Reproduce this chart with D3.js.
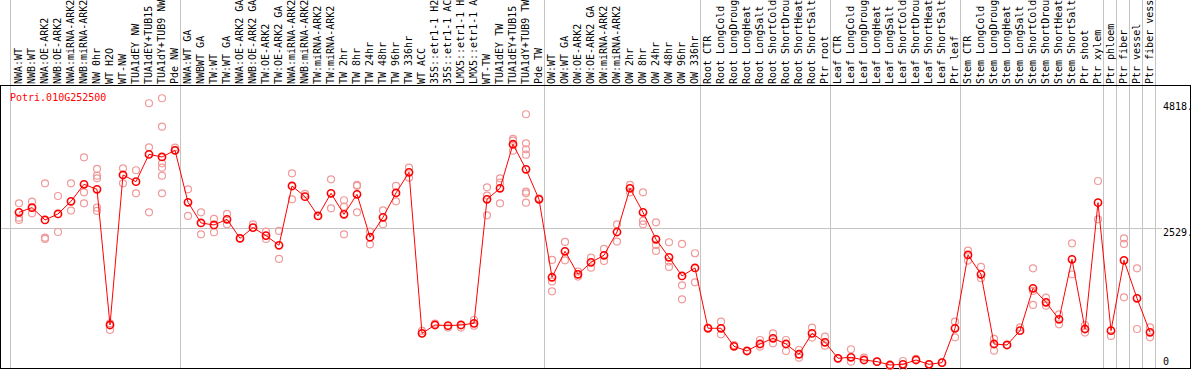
<!DOCTYPE html>
<html>
<head>
<meta charset="utf-8">
<script src="https://cdn.jsdelivr.net/npm/d3@7"></script>
<style>
body { margin: 0; background: #fff; }
svg { display: block; }
text { font-family: "DejaVu Sans Mono", monospace; font-size: 10px; }
</style>
</head>
<body>
<div id="chart"></div>
<script>
const geneId = "Potri.010G252500"

// sample names as far as they show in the header strip
const labels = [
	"NWA:WT", "NWB:WT", "NWA:OE-ARK2", "NWB:OE-ARK2", "NWA:miRNA-ARK2", "NWB:miRNA-ARK2",
	"NW 0hr", "WT H2O", "WT-NW", "TUA1dEY NW", "TUA1dEY+TUB15", "TUA1dY+TUB9 NW", "Pde NW",
	"NWA:WT GA", "NWBWT GA", "TW:WT", "TW:WT GA", "NWA:OE-ARK2 GA", "NWB:OE-ARK2 GA",
	"TW:OE-ARK2", "TW:OE-ARK2 GA", "NWA:miRNA-ARK2", "NWB:miRNA-ARK2", "TW:miRNA-ARK2",
	"TW:miRNA-ARK2", "TW 2hr", "TW 8hr", "TW 24hr", "TW 48hr", "TW 96hr", "TW 336hr", "WT ACC",
	"35S::etr1-1 H2", "35S::etr1-1 AC", "LMX5::etr1-1 H", "LMX5::etr1-1 A", "WT-TW",
	"TUA1dEY TW", "TUA1dEY+TUB15", "TUA1dY+TUB9 TW", "Pde TW",
	"OW:WT", "OW:WT GA", "OW:OE-ARK2", "OW:OE-ARK2 GA", "OW:miRNA-ARK2", "OW:miRNA-ARK2",
	"OW 2hr", "OW 8hr", "OW 24hr", "OW 48hr", "OW 96hr", "OW 336hr",
	"Root CTR", "Root LongCold", "Root LongDroug", "Root LongHeat", "Root LongSalt",
	"Root ShortCold", "Root ShortDrou", "Root ShortHeat", "Root ShortSalt", "Ptr root",
	"Leaf CTR", "Leaf LongCold", "Leaf LongDroug", "Leaf LongHeat", "Leaf LongSalt",
	"Leaf ShortCold", "Leaf ShortDrou", "Leaf ShortHeat", "Leaf ShortSalt", "Ptr leaf",
	"Stem CTR", "Stem LongCold", "Stem LongDroug", "Stem LongHeat", "Stem LongSalt",
	"Stem ShortCold", "Stem ShortDrou", "Stem ShortHeat", "Stem ShortSalt", "Ptr shoot",
	"Ptr xylem", "Ptr phloem", "Ptr fiber", "Ptr vessel", "Ptr fiber vess"
]

// mean expression per sample
const means = [
	2820, 2905, 2681, 2790, 3020, 3330, 3239, 770, 3500, 3378, 3875, 3827, 3948,
	3002, 2626, 2590, 2693, 2347, 2541, 2396, 2220, 3299, 3105, 2754, 3166, 2784,
	3148, 2366, 2729, 3172, 3548, 618, 770, 758, 770, 800, 3057, 3257, 4058, 3603, 3057,
	1638, 2111, 1692, 1910, 2038, 2462, 3257, 2820, 2329, 2001, 1662, 1808,
	710, 710, 382, 297, 424, 528, 424, 237, 618, 455,
	164, 182, 133, 103, 42, 54, 133, 54, 85, 710,
	2044, 1692, 424, 406, 667, 1437, 1183, 873, 1965, 697,
	2996, 667, 1947, 1255, 637
]

// individual replicates per sample
const reps = [
	[2984, 2723, 2681], [3014, 2802, 2905], [3348, 2359, 2335], [3117, 2462], [3348, 2851],
	[3821, 3184, 2984], [3609, 3487, 3439, 2905, 2845], [800, 679], [3621, 3348], [3585, 3166],
	[4804, 4003, 2820], [4895, 4379, 3712, 3633, 3487, 3166], [3997, 3948],
	[3239, 2754], [2820, 2420], [2699, 2457], [2790, 2602], [2347], [2602], [2469, 2335],
	[2481, 1971], [3530, 3057], [3154], [2754], [3421, 2893], [3039, 2924, 2420],
	[3318, 3300, 2820], [2469, 2238], [2857, 2602], [3300, 3020], [3633, 3451], [661], [794],
	[722], [722], [861, 758], [3275, 3124, 2766], [3439, 3360, 2984], [4155, 4124, 3942],
	[4604, 4076, 3966, 3869, 3196, 3166, 2996], [3075],
	[1953, 1559, 1383], [2281, 1947], [1741, 1650], [1995, 1813], [2153, 1935], [2602, 2287],
	[3318, 3184], [3184, 2663, 2602], [2638, 2226, 2117], [2275, 1923, 1826],
	[2244, 1492, 1237], [2075, 1547],
	[722], [831, 600], [406], [297], [497, 376], [618, 437], [497, 297], [315, 176],
	[722, 540], [558, 394],
	[164], [328, 103], [176], [103], [24], [115, 0], [152], [54], [85], [831, 546],
	[2123, 1941], [1826, 1620], [516, 303], [406], [728], [1801, 1389, 1134], [1268, 1122],
	[964, 782], [2256, 1692], [770, 631],
	[3390, 2693], [570], [2347, 2244, 1274], [1801, 697], [728, 546]
]

// last sample index of each block (a grey rule follows it)
const groupEnds = [12, 40, 52, 62, 72, 83, 84, 85, 86, 87]

const tickValues = [0, 2529, 4818]
const tickLabels = ["0", "2529.", "4818."]

const WIDTH = 1194
const HEIGHT = 370
const PLOT = { TOP: 85, BOTTOM: 368, LEFT: 0, RIGHT: 1190 }

const svg = d3.select("#chart")
	.append("svg")
		.attr("width", WIDTH)
		.attr("height", HEIGHT)

const x = d3.scaleLinear()
	.domain([0, labels.length - 1])
	.range([19, 19 + 13 * (labels.length - 1)])

const y = d3.scaleLinear()
	.domain([0, 4818])
	.range([367.3, 102.5])

const GRID = "#c4c4c4"

// middle grid line
svg.append("line")
	.attr("x1", 0).attr("x2", 1162)
	.attr("y1", Math.round(y(tickValues[1])) + 0.5)
	.attr("y2", Math.round(y(tickValues[1])) + 0.5)
	.attr("stroke", GRID)

// vertical rules: left one plus one after each block
const rules = [10.5].concat(groupEnds.map(i => Math.round(x(i)) + 5.5))
svg.selectAll(".rule")
	.data(rules)
	.enter().append("line")
		.attr("class", "rule")
		.attr("x1", d => d).attr("x2", d => d)
		.attr("y1", 0).attr("y2", PLOT.BOTTOM)
		.attr("stroke", GRID)

// frame
svg.append("rect")
	.attr("x", PLOT.LEFT + 0.5)
	.attr("y", PLOT.TOP + 0.5)
	.attr("width", PLOT.RIGHT - PLOT.LEFT)
	.attr("height", PLOT.BOTTOM - PLOT.TOP)
	.attr("fill", "none")
	.attr("stroke", "#000")

// sample labels, rotated
svg.selectAll(".label")
	.data(labels)
	.enter().append("text")
		.attr("class", "label")
		.attr("transform", (d, i) => `translate(${x(i) + 3}, 84) rotate(-90)`)
		.attr("fill", "#000")
		.text(d => d)

// replicates
const repPoints = []
reps.forEach((r, i) => r.forEach(v => repPoints.push({ i: i, v: v })))

svg.selectAll(".rep")
	.data(repPoints)
	.enter().append("circle")
		.attr("class", "rep")
		.attr("cx", d => x(d.i))
		.attr("cy", d => y(d.v))
		.attr("r", 3.5)
		.attr("fill", "none")
		.attr("stroke", "#f09a9a")
		.attr("stroke-width", 1.2)

// mean line
const line = d3.line()
	.x((d, i) => x(i))
	.y(d => y(d))

svg.append("path")
	.datum(means)
	.attr("d", line)
	.attr("fill", "none")
	.attr("stroke", "#ff0000")
	.attr("stroke-width", 1)

svg.selectAll(".mean")
	.data(means)
	.enter().append("circle")
		.attr("class", "mean")
		.attr("cx", (d, i) => x(i))
		.attr("cy", d => y(d))
		.attr("r", 3.6)
		.attr("fill", "none")
		.attr("stroke", "#ff0000")
		.attr("stroke-width", 1.6)

// gene id
svg.append("text")
	.attr("x", 10)
	.attr("y", 101)
	.attr("fill", "#ff0000")
	.text(geneId)

// value labels on the right
svg.selectAll(".tick")
	.data(tickValues)
	.enter().append("text")
		.attr("class", "tick")
		.attr("x", 1163)
		.attr("y", d => Math.min(y(d) + 7.5, 365))
		.attr("fill", "#000")
		.text((d, i) => tickLabels[i])
</script>
</body>
</html>
